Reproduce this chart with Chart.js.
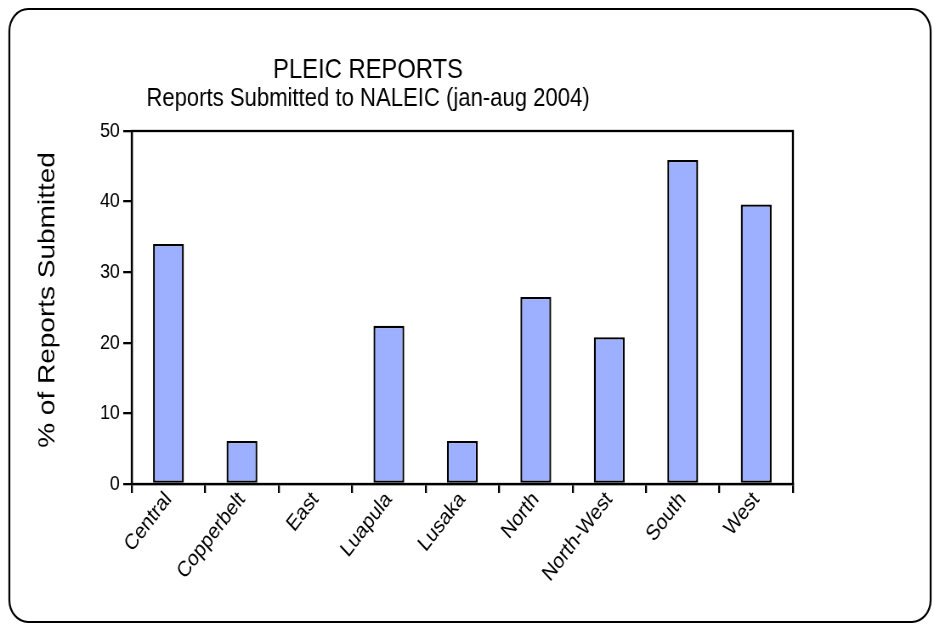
<!DOCTYPE html>
<html>
<head>
<meta charset="utf-8">
<script src="https://cdn.jsdelivr.net/npm/chart.js@4.4.1/dist/chart.umd.min.js"></script>
<style>
html,body{margin:0;padding:0;background:#fff;overflow:hidden;}
#c{display:block;width:934px;height:626px;}
</style>
</head>
<body>
<canvas id="c" width="1099" height="626" style="width:934px;height:626px;"></canvas>
<script>
const categories = ["Central","Copperbelt","East","Luapula","Lusaka","North","North-West","South","West"];
const reportsPct = [34.0, 6.1, 0, 22.4, 6.1, 26.5, 20.8, 45.9, 39.6];
const yTicks = [0,10,20,30,40,50];
const titleLines = ["PLEIC REPORTS","Reports Submitted to NALEIC (jan-aug 2004)"];
const yTitle = "% of Reports Submitted";

const FONT = "'Liberation Sans', Arial, sans-serif";

const frame = {
  id:'frame',
  beforeDraw(chart){
    const ctx = chart.ctx;
    ctx.save();
    ctx.fillStyle = '#fff';
    ctx.fillRect(0,0,chart.width,chart.height);
    ctx.strokeStyle = '#000';
    ctx.lineWidth = 2.2;
    ctx.beginPath();
    ctx.roundRect(11,9,1084,613,22);
    ctx.stroke();
    // chart title
    ctx.fillStyle = '#000';
    ctx.textAlign = 'center';
    ctx.textBaseline = 'middle';
    ctx.font = "28px " + FONT;
    ctx.fillText(titleLines[0], 433, 70);
    ctx.font = "26px " + FONT;
    ctx.fillText(titleLines[1], 433, 99);
    // y axis title
    ctx.save();
    ctx.translate(56, 300);
    ctx.rotate(-Math.PI/2);
    ctx.font = "28px " + FONT;
    ctx.fillText(yTitle, 0, 0);
    ctx.restore();
    ctx.restore();
  },
  afterDatasetsDraw(chart){
    const a = chart.chartArea, ctx = chart.ctx;
    ctx.save();
    ctx.strokeStyle = '#000';
    ctx.lineWidth = 2.3;
    ctx.strokeRect(a.left, a.top, a.right-a.left, a.bottom-a.top);
    ctx.restore();
  }
};

new Chart(document.getElementById('c'), {
  type:'bar',
  data:{
    labels: categories,
    datasets:[{
      data: reportsPct,
      backgroundColor:'#9CB0FF',
      borderColor:'#000',
      borderWidth:2.3,
      borderSkipped:false,
      barPercentage:0.42,
      categoryPercentage:1.0
    }]
  },
  options:{
    responsive:false,
    animation:false,
    devicePixelRatio:1,
    layout:{padding:{left:36,right:166,top:131,bottom:8}},
    plugins:{
      legend:{display:false},
      tooltip:{enabled:false},
      title:{display:false}
    },
    scales:{
      x:{
        grid:{display:true,drawOnChartArea:false,drawTicks:true,tickLength:9,color:'#000',lineWidth:2.3,offset:true},
        border:{display:true,color:'#000',width:2.3},
        ticks:{color:'#000',font:{family:FONT,size:22},minRotation:48,maxRotation:48,padding:-6},
        afterFit(s){ s.height = 134; }
      },
      y:{
        min:0,max:50,
        afterBuildTicks(s){ s.ticks = yTicks.map(v=>({value:v})); },
        grid:{display:true,drawOnChartArea:false,drawTicks:true,tickLength:10,color:'#000',lineWidth:2.3},
        border:{display:true,color:'#000',width:2.3},
        ticks:{color:'#000',font:{family:FONT,size:21},padding:4},
        title:{display:false,text:yTitle},
        afterFit(s){ s.width = 119; }
      }
    }
  },
  plugins:[frame]
});
</script>
</body>
</html>
